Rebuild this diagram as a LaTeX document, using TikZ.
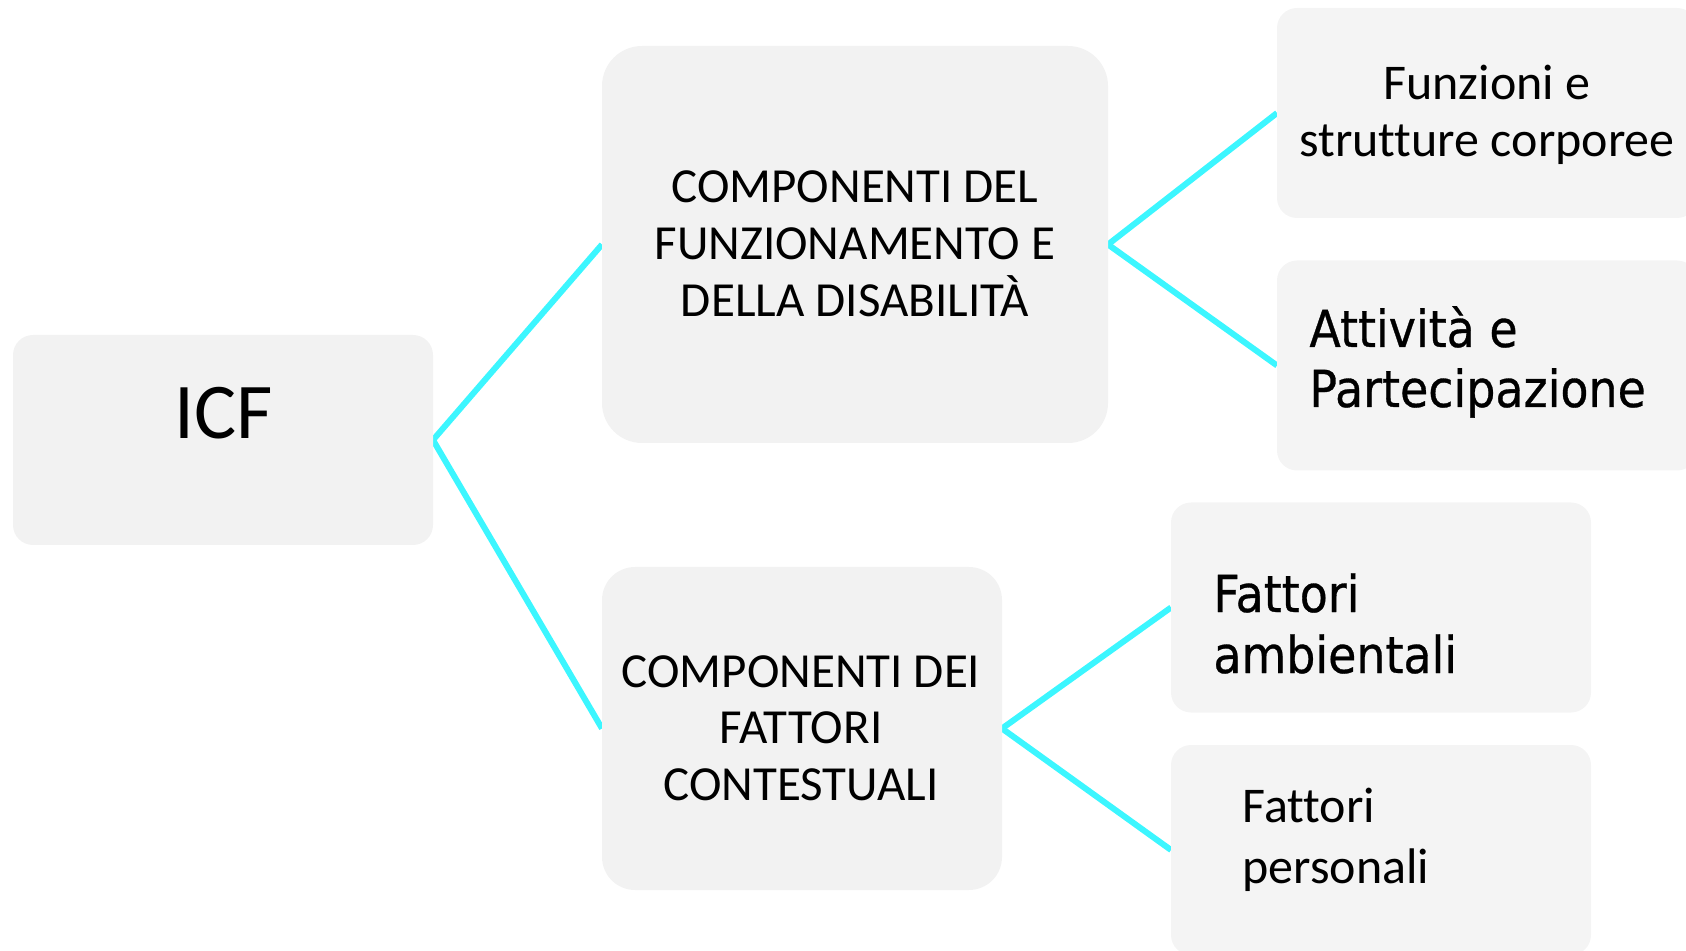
\documentclass[tikz,border=0pt]{standalone}
\usepackage{fontspec}
\setmainfont{Carlito}[Ligatures=NoCommon]
\newfontfamily\calib{Carlito}[Ligatures=NoCommon]
\newfontfamily\djc[FakeStretch=0.9, FakeBold=0.6]{DejaVu Sans}
\usetikzlibrary{backgrounds}
\definecolor{boxgray}{HTML}{F2F2F2}
\definecolor{boxlight}{HTML}{F4F4F4}
\definecolor{linkcyan}{HTML}{3CF6FF}
\tikzset{
  boxbase/.style={draw=none, inner sep=0pt, outer sep=0pt},
  bigbox/.style={boxbase, fill=boxgray},
  smallbox/.style={boxbase, fill=boxlight, rounded corners=10pt, minimum width=210pt, minimum height=105pt},
  conn/.style={draw=linkcyan, line width=3pt},
  icftext/.style={inner sep=0pt, anchor=base, font=\calib\fontsize{39.5pt}{47pt}\selectfont},
  captext/.style={inner sep=0pt, anchor=base, font=\calib\fontsize{24.5pt}{28.5pt}\selectfont},
  lighttext/.style={inner sep=0pt, font=\calib\fontsize{25pt}{30pt}\selectfont},
  medtext/.style={inner sep=0pt, anchor=base west, font=\djc\fontsize{25.5pt}{30.5pt}\selectfont}
}
\begin{document}
\begin{tikzpicture}[x=0.5pt, y=-0.5pt]
\useasboundingbox (0,0) rectangle (1686,951);
% boxes
\node[bigbox, rounded corners=10pt, minimum width=210pt, minimum height=105pt] (icf) at (223,440) {};
\node[bigbox, rounded corners=20pt, minimum width=253pt, minimum height=198.5pt] (c1) at (855,244.5) {};
\node[bigbox, rounded corners=16.5pt, minimum width=200pt, minimum height=161.5pt] (c2) at (802,728.5) {};
\node[smallbox] (f1) at (1487,113) {};
\node[smallbox] (f2) at (1487,365.5) {};
\node[smallbox] (f3) at (1381,607.5) {};
\node[smallbox] (f4) at (1381,850) {};
% connectors
\begin{scope}[on background layer]
\draw[conn] (icf.east) -- (c1.west);
\draw[conn] (icf.east) -- (c2.west);
\draw[conn] (c1.east) -- (f1.west);
\draw[conn] (c1.east) -- (f2.west);
\draw[conn] (c2.east) -- (f3.west);
\draw[conn] (c2.east) -- (f4.west);
\end{scope}
% texts
\node[icftext] (ticf) at (224,439) {ICF};
\node[captext] (t1a) at (855,203) {COMPONENTI DEL};
\node[captext] (t1b) at (855,260) {FUNZIONAMENTO E};
\node[captext] (t1c) at (855,317) {DELLA DISABILITÀ};
\node[captext] (t2a) at (801,687) {COMPONENTI DEI};
\node[captext] (t2b) at (801,743) {FATTORI};
\node[captext] (t2c) at (801,800) {CONTESTUALI};
\node[lighttext, anchor=base] (tf1a) at (1487,100) {Funzioni e};
\node[lighttext, anchor=base] (tf1b) at (1487,157) {strutture corporee};
\node[medtext] (tf2a) at (1309,347) {Attività e};
\node[medtext] (tf2b) at (1309,407) {Partecipazione};
\node[medtext] (tf3a) at (1213,612) {Fattori};
\node[medtext] (tf3b) at (1213,673) {ambientali};
\node[lighttext, anchor=base west] (tf4a) at (1242,822) {Fattori};
\node[lighttext, anchor=base west] (tf4b) at (1242,883) {personali};
\end{tikzpicture}
\end{document}
